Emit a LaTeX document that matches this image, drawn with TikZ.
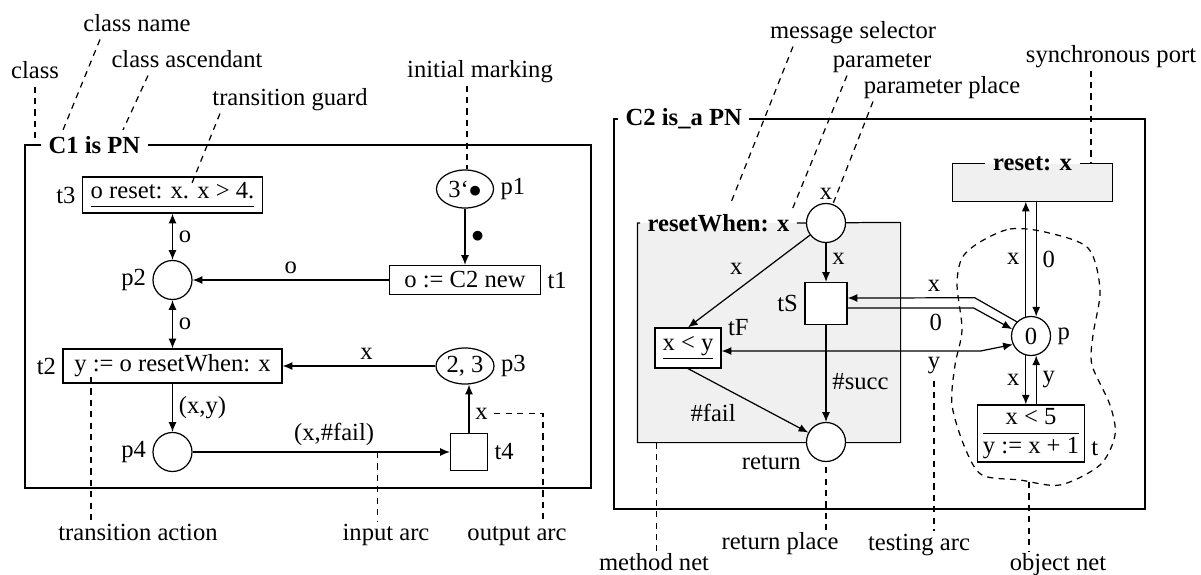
\documentclass[tikz,border=0pt]{standalone}
\usepackage{fontspec}
\setmainfont{Liberation Serif}
\usetikzlibrary{arrows.meta,shapes.geometric}

\tikzset{
  place/.style={circle,draw,fill=white,minimum size=0.78cm,inner sep=0pt},
  mplace/.style={ellipse,draw,fill=white,inner sep=1pt},
  trans/.style={rectangle,draw,fill=white,inner sep=3pt},
  frametitle/.style={font=\fontsize{14}{16}\selectfont\bfseries,inner xsep=4pt,inner ysep=1pt},
  lbl/.style={text height=1.5ex,text depth=.25ex},
  leader/.style={dash pattern=on 3.5pt off 3pt},
  netfill/.style={fill=black!6}
}

\begin{document}
\begin{tikzpicture}[>={Latex[length=5.5pt,width=4.5pt]},line width=0.7pt,font=\fontsize{14}{16}\selectfont]
  \useasboundingbox (0,0) rectangle (24.02,11.48);

  % Class C1
  \node[frametitle,anchor=west] (c1title) at (0.82,8.58) {C1 is PN};
  \coordinate (c1sw) at (0.50,1.72);
  \coordinate (c1ne) at (11.82,8.58);
  \draw (c1title.west) -| (c1sw) -| (c1ne) -- (c1title.east);

  % Places and transitions of C1
  \node[trans,minimum width=3.6cm,minimum height=0.72cm,label=left:t3] (t3) at (3.45,7.58) {\underline{\vphantom{y}o reset: x. x > 4.}};
  \node[place,label=left:p2] (p2) at (3.45,5.88) {};
  \node[trans,minimum width=4.38cm,minimum height=0.68cm,label=left:t2] (t2) at (3.45,4.16) {y := o resetWhen: x};
  \node[place,label=left:p4] (p4) at (3.45,2.44) {};
  \node[mplace,minimum width=1.14cm,minimum height=0.76cm,label=right:p1] (p1) at (9.30,7.70) {3‘$\bullet$};
  \node[trans,minimum width=3.02cm,minimum height=0.58cm,label=right:t1] (t1) at (9.30,5.88) {o := C2 new};
  \node[mplace,minimum width=1.16cm,minimum height=0.72cm,label=right:p3] (p3) at (9.30,4.16) {2, 3};
  \node[trans,minimum size=0.74cm,label=right:t4] (t4) at (9.38,2.44) {};

  % Arcs of C1
  \draw[<->] (t3) -- node[right] {o} (p2);
  \draw[<->] (p2) -- node[right] {o} (t2);
  \draw[->] (t1) -- node[above] {o} (p2);
  \draw[->] (p1) -- node[right] {$\bullet$} (t1);
  \draw[->] (p3) -- node[above,pos=0.45] {x} (t2);
  \draw[->] (t2) -- node[right] {(x,y)} (p4);
  \draw[->] (p4) -- node[above,pos=0.55] {(x,\#fail)} coordinate[pos=0.72] (inarc) (t4);
  \draw[->] (t4) -- node[right,pos=0.4] (xout) {x} (t4 |- p3.south);

  % Annotations of C1
  \node[lbl] (lclass) at (0.70,10.02) {class};
  \node[lbl] (lcname) at (2.74,10.96) {class name};
  \node[lbl] (lcasc) at (3.74,10.24) {class ascendant};
  \node[lbl] (lguard) at (5.80,9.48) {transition guard};
  \node[lbl] (lmark) at (9.60,10.04) {initial marking};
  \node[lbl] (lact) at (2.76,0.78) {transition action};
  \node[lbl] (linarc) at (7.72,0.78) {input arc};
  \node[lbl] (loutarc) at (10.34,0.78) {output arc};
  \coordinate (cclass) at (0.70,8.68);
  \coordinate (cname) at (1.26,8.88);
  \coordinate (casc) at (2.46,8.88);
  \coordinate (cguard) at (3.84,7.82);
  \coordinate (cact) at (1.82,3.94);
  \draw[leader] (lclass) -- (cclass);
  \draw[leader] ([xshift=-0.74cm]lcname.south) -- (cname);
  \draw[leader] ([xshift=-0.78cm]lcasc.south) -- (casc);
  \draw[leader] ([xshift=-1.40cm]lguard.south) -- (cguard);
  \draw[leader] ([xshift=-0.26cm]lmark.south) -- ([xshift=-0.26cm]lmark.south |- p1.north);
  \draw[leader] (cact) -- (cact |- lact.north);
  \draw[leader] (inarc) -- (inarc |- linarc.north);
  \draw[leader] (xout.east) -| ([xshift=0.52cm]loutarc.north);

  % Class C2
  \node[frametitle,anchor=west] (c2title) at (12.36,9.10) {C2 is\_a PN};
  \coordinate (c2sw) at (12.28,1.30);
  \coordinate (c2ne) at (22.90,9.10);
  \draw (c2title.west) -| (c2sw) -| (c2ne) -- (c2title.east);

  % Method net resetWhen
  \node[netfill,minimum width=5.24cm,minimum height=4.38cm] (mnet) at (15.38,4.83) {};
  \node[frametitle,anchor=west] (mtitle) at (12.80,7.02) {resetWhen: x};
  \draw (mtitle.west) -| (mnet.south west) -| (mnet.north east) -- (mtitle.east);
  \node[place,label={[label distance=-2pt]above:x}] (param) at (16.52,7.02) {};
  \node[trans,minimum size=0.84cm,label=left:tS] (tS) at (16.52,5.41) {};
  \node[trans,minimum width=1.32cm,minimum height=0.80cm,label={[anchor=west]north east:tF}] (tF) at (13.76,4.52) {\underline{x < y}};
  \node[place,label={[anchor=north east]200:return}] (ret) at (16.52,2.64) {};

  % Synchronous port and object net
  \node[netfill,minimum width=3.18cm,minimum height=0.74cm] (rport) at (20.65,7.83) {};
  \node[frametitle] (rtitle) at (rport.north) {reset: x};
  \draw (rtitle.east) -| (rport.south east) -| (rport.north west) -- (rtitle.west);
  \node[place,label=right:p] (p) at (20.62,4.76) {0};
  \node[trans,inner ysep=0pt,inner xsep=3pt,label={[anchor=south west]south east:t}] (t) at (20.62,2.81)
    {\begin{tabular}{@{}c@{}}x < 5\\\hline y := x + 1\end{tabular}};
  \draw[leader] plot[smooth cycle] coordinates {(19.60,6.64) (20.20,6.90) (20.90,6.84) (21.76,6.52) (22.00,5.68)
    (21.86,4.78) (21.84,4.18) (22.20,3.38) (22.30,2.78) (22.00,2.18) (21.20,1.78) (20.40,1.88) (19.64,1.98)
    (19.30,2.52) (19.04,3.38) (19.10,4.18) (19.24,4.88) (19.14,5.78) (19.24,6.32)};
  \coordinate (onet) at (20.58,1.84);

  % Arcs of C2
  \draw[->] (param) -- node[right,pos=0.4] {x} (tS);
  \draw[->] (param) -- node[midway,above left] {x} (tF.north);
  \draw[->] (tS) -- node[right,pos=0.58] {\#succ} (ret);
  \draw[->] (tF.south) -- node[below left,pos=0.45] {\#fail} (ret);
  \draw[->] (p.105) -- node[left] {x} (p.105 |- rport.south);
  \draw[->] (p.75 |- rport.south) -- node[right] {0} (p.75);
  \draw[->] (p.255) -- node[left] {x} (p.255 |- t.north);
  \draw[->] (p.285 |- t.north) -- node[right] {y} (p.285);
  \draw[->] (p.135) -- ++(-0.84,0.48) -- node[above,pos=0.32] {x} ([yshift=1.1mm]tS.east);
  \draw[->] ([yshift=-0.9mm]tS.east) -- node[below,pos=0.70] {0} ++(2.52,0) -- (p.160);
  \draw[<->] ([yshift=-0.6mm]tF.east) -- node[below,pos=0.82] (ty) {y} ++(5.18,0) -- (p.205);

  % Annotations of C2
  \node[lbl] (lmsg) at (17.06,10.82) {message selector};
  \node[lbl] (lpar) at (17.64,10.24) {parameter};
  \node[lbl] (lppl) at (18.84,9.72) {parameter place};
  \node[lbl] (lsync) at (22.22,10.34) {synchronous port};
  \node[lbl] (lmeth) at (13.08,0.18) {method net};
  \node[lbl] (lret) at (15.60,0.60) {return place};
  \node[lbl] (ltest) at (18.38,0.58) {testing arc};
  \node[lbl] (lobj) at (21.16,0.18) {object net};
  \coordinate (cmsg) at (14.60,7.38);
  \coordinate (cpar) at (15.84,7.28);
  \draw[leader] ([xshift=-1.20cm]lmsg.south) -- (cmsg);
  \draw[leader] ([xshift=-0.70cm]lpar.south) -- (cpar);
  \draw[leader] ([xshift=-1.38cm]lppl.south) -- (param.70);
  \draw[leader] ([xshift=-0.40cm]lsync.south) -- ([xshift=-0.40cm]lsync.south |- rport.north);
  \draw[leader] ([xshift=0.38cm]mnet.south west) -- ([xshift=0.38cm]mnet.south west |- lmeth.north);
  \draw[leader] ([yshift=-1mm]ret.south) -- (ret.south |- lret.north);
  \draw[leader] (ty) -- (ty |- ltest.north);
  \draw[leader] (onet) -- (onet |- lobj.north);
\end{tikzpicture}
\end{document}
